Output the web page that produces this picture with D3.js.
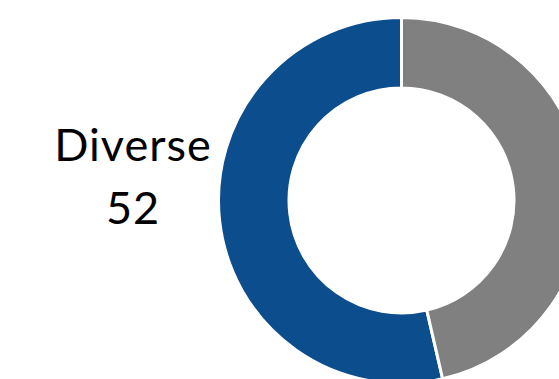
<!DOCTYPE html>
<html>
<head>
<meta charset="utf-8">
<script src="https://cdn.jsdelivr.net/npm/d3@7"></script>
<style>
  html, body { margin: 0; padding: 0; background: #fff; overflow: hidden; }
</style>
</head>
<body>
<div id="chart"></div>
<script>
// data
const categories = ["Diverse", "Other"];
const values = [52, 45];
const colors = ["#0b4d8d", "#808080"];

const width = 559, height = 379;

const svg = d3.select("#chart")
  .append("svg")
    .attr("width", width)
    .attr("height", height);

// donut sits off to the right, partly cut by the frame
const cx = 401.5, cy = 200.5;
const outerR = 183, innerR = 112.5;

const pie = d3.pie()
  .sort(null)
  .startAngle(0)
  .endAngle(-2 * Math.PI) // counter clockwise, first slice goes left
  .value(d => d);

const arc = d3.arc()
  .innerRadius(innerR)
  .outerRadius(outerR);

const g = svg.append("g")
  .attr("transform", "translate(" + cx + "," + cy + ")");

g.selectAll("path")
  .data(pie(values))
  .enter()
  .append("path")
    .attr("d", arc)
    .attr("fill", (d, i) => colors[i])
    .attr("stroke", "#fff")
    .attr("stroke-width", 3);

// label for the first slice
const label = svg.append("text")
  .attr("x", 133)
  .attr("y", 161)
  .attr("text-anchor", "middle")
  .style("font-family", "Lato, 'Open Sans', sans-serif")
  .style("font-size", "45px")
  .style("letter-spacing", "1px")
  .style("fill", "#000");

label.append("tspan")
  .attr("x", 133)
  .text(categories[0]);
label.append("tspan")
  .attr("x", 133)
  .attr("dy", 63)
  .text(values[0]);
</script>
</body>
</html>
